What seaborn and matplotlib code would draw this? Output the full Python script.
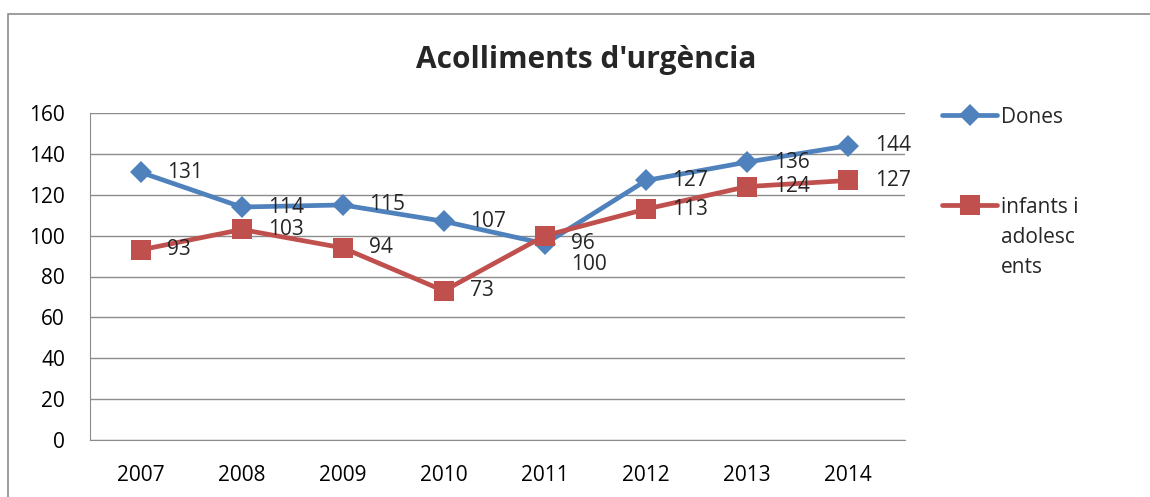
import numpy as np
import pandas as pd
import matplotlib
matplotlib.use("Agg")
import matplotlib.pyplot as plt
import seaborn as sns
from matplotlib.lines import Line2D
from matplotlib.patches import Rectangle

years = ["2007", "2008", "2009", "2010", "2011", "2012", "2013", "2014"]
dones = [131, 114, 115, 107, 96, 127, 136, 144]
infants = [93, 103, 94, 73, 100, 113, 124, 127]
series_names = ["Dones", "infants i adolescents"]
title = "Acolliments d'urgència"

blue = "#4F81BD"
red = "#C0504D"
fs = 15

sns.set_style("white")
plt.rcParams['font.family'] = ['Open Sans', 'DejaVu Sans']

df = pd.DataFrame({
    "pos": list(range(len(years))) * 2,
    "value": dones + infants,
    "serie": [series_names[0]] * len(years) + [series_names[1]] * len(years),
})

fig = plt.figure(figsize=(11.5, 4.97), dpi=100)
ax = fig.add_axes([90 / 1150, 1 - 440 / 497, 815 / 1150, 327 / 497])

# outer chart border
fig.patches.append(Rectangle((8 / 1150, -0.1), 1.2, 1 - 14 / 497 + 0.1,
                             transform=fig.transFigure, fill=False,
                             edgecolor="#8c8c8c", lw=1.2))

sns.lineplot(data=df, x="pos", y="value", hue="serie", style="serie",
             palette=[blue, red], markers=["D", "s"], dashes=False,
             linewidth=3.4, markeredgewidth=0, legend=False, ax=ax)
for ln in ax.lines:
    if ln.get_marker() == "D":
        ln.set_markersize(11)
    else:
        ln.set_markersize(14.5)

ax.set_ylim(0, 160)
ax.set_xlim(-0.5, 7.56)
ax.set_yticks(range(0, 161, 20))
ax.set_xticks(range(len(years)))
ax.set_xticklabels(years)
ax.set_xlabel("")
ax.set_ylabel("")
ax.yaxis.grid(True, color="#8c8c8c", lw=1)
ax.set_axisbelow(True)
for s in ["top", "right"]:
    ax.spines[s].set_visible(False)
for s in ["left", "bottom"]:
    ax.spines[s].set_color("#8c8c8c")
ax.tick_params(axis="both", length=0, labelsize=fs, colors="black")
ax.tick_params(axis="x", pad=18)
ax.tick_params(axis="y", pad=18)

# data labels
for i, v in enumerate(dones):
    ax.annotate(str(v), (i, v), xytext=(19, 0), textcoords="offset points",
                va="center", ha="left", fontsize=fs)
for i, v in enumerate(infants):
    dy = -20.5 if i == 4 else 0
    ax.annotate(str(v), (i, v), xytext=(19, dy), textcoords="offset points",
                va="center", ha="left", fontsize=fs)

fig.text(586 / 1150, 1 - 60 / 497, title, ha="center", va="center",
         fontsize=21.5, fontweight="bold")

# legend keys drawn by hand so the wrapped label lines up like the original
legend_rows = [(115, blue, "D", 11, "Dones"),
               (205, red, "s", 14.5, "infants i\nadolesc\nents")]
for ypx, col, mk, ms, lab in legend_rows:
    yf = 1 - ypx / 497
    fig.add_artist(Line2D([942 / 1150, 997 / 1150], [yf, yf], color=col,
                          lw=3.4, transform=fig.transFigure))
    fig.add_artist(Line2D([970 / 1150], [yf], color=col, marker=mk,
                          markersize=ms, markeredgewidth=0,
                          transform=fig.transFigure))
    fig.text(1001 / 1150, 1 - (ypx - 8) / 497, lab, ha="left", va="top",
             fontsize=fs, linespacing=1.55)

fig.savefig("out.png", dpi=100)
